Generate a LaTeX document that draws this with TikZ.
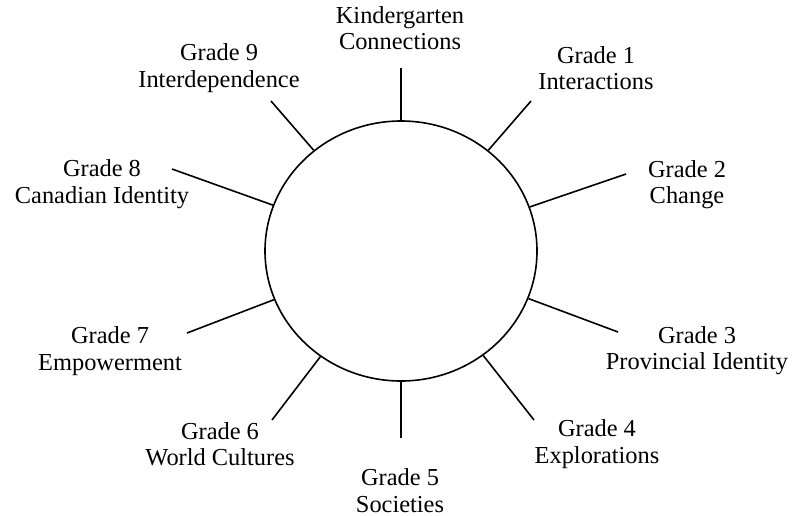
\documentclass[tikz,border=0pt]{standalone}
\usepackage{fontspec}
\setmainfont{Liberation Serif}
\usetikzlibrary{shapes.geometric}
\tikzstyle{every path}+=[line width=0.8pt]
\tikzstyle{gradelabel}=[align=center,font=\fontsize{12.2}{13.25}\selectfont,inner sep=0pt]
\tikzstyle{hubshape}=[draw,ellipse,minimum width=136pt,minimum height=130pt,inner sep=0pt]
\newcommand{\drawspokes}[2][\empty]{
	\foreach \a in {#2}{
		\draw[#1] (\a) -- (hub);
	}
}

\begin{document}
\begin{tikzpicture}[x=0.5pt,y=-0.5pt]
\useasboundingbox (0,0) rectangle (801,515);
\node[hubshape] (hub) at (401,251) {};

\coordinate (k) at (401,68);
\coordinate (g1) at (531,101);
\coordinate (g2) at (626,174);
\coordinate (g3) at (618,332);
\coordinate (g4) at (534,420);
\coordinate (g5) at (401,438);
\coordinate (g6) at (272,420);
\coordinate (g7) at (187,333);
\coordinate (g8) at (172,169);
\coordinate (g9) at (271,101);

\drawspokes{k,g1,g2,g3,g4,g5,g6,g7,g8,g9}

\node[gradelabel] (lk) at (400,28) {Kindergarten\\Connections};
\node[gradelabel] (l1) at (596,68) {Grade 1\\Interactions};
\node[gradelabel] (l2) at (687,184.5) {Grade 2\\Change};
\node[gradelabel] (l3) at (697,350.5) {Grade 3\\Provincial Identity};
\node[gradelabel] (l4) at (597,444) {Grade 4\\Explorations};
\node[gradelabel] (l5) at (400,490.5) {Grade 5\\Societies};
\node[gradelabel] (l6) at (220,444) {Grade 6\\World Cultures};
\node[gradelabel] (l7) at (110,351) {Grade 7\\Empowerment};
\node[gradelabel] (l8) at (102,184) {Grade 8\\Canadian Identity};
\node[gradelabel] (l9) at (219,68) {Grade 9\\Interdependence};
\end{tikzpicture}
\end{document}
